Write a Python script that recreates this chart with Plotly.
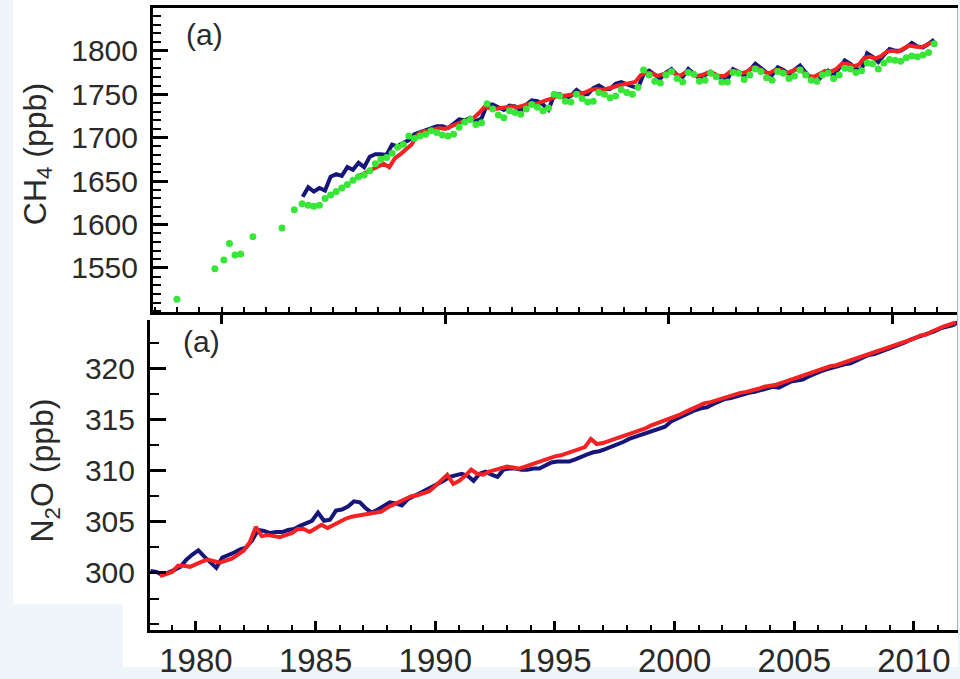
import numpy as np
import plotly.graph_objects as go

W, H = 960, 679

# ---------------- data ----------------
STEP = 0.25  # quarterly samples (years)

# CH4 (ppb) - blue record, quarterly from 1983.625
ch4_blue_start = 1983.625
ch4_blue = [1632, 1643, 1638, 1642, 1639, 1655, 1658, 1656, 1666, 1663,
            1671, 1666, 1678, 1681, 1681, 1680, 1692, 1690, 1694, 1697,
            1704, 1706, 1708, 1710, 1713, 1713, 1711, 1716, 1721, 1720,
            1723, 1719, 1722, 1738, 1738, 1735, 1732, 1737, 1736, 1730,
            1738, 1743, 1742, 1738, 1732, 1749, 1750, 1745, 1748, 1755,
            1750, 1750, 1757, 1760, 1756, 1756, 1762, 1764, 1761, 1759,
            1757, 1773, 1777, 1772, 1768, 1775, 1779, 1772, 1770, 1779,
            1774, 1768, 1772, 1776, 1772, 1768, 1767, 1779, 1776, 1771,
            1778, 1785, 1780, 1775, 1772, 1781, 1778, 1773, 1778, 1783,
            1775, 1768, 1764, 1772, 1777, 1771, 1780, 1789, 1785, 1779,
            1778, 1797, 1793, 1787, 1795, 1802, 1800, 1800, 1804, 1809,
            1805, 1804, 1808, 1813]

# CH4 (ppb) - red record, quarterly from 1986.0
ch4_red_start = 1986.0
ch4_red = [1654, 1657, 1660, 1663, 1667, 1670, 1666, 1676, 1681, 1686,
           1692, 1703, 1707, 1708, 1710, 1711, 1710, 1713, 1716, 1718,
           1720, 1722, 1728, 1735, 1734, 1733, 1734, 1735, 1736, 1735,
           1737, 1739, 1738, 1741, 1743, 1745, 1748, 1748, 1749, 1751,
           1751, 1752, 1755, 1756, 1755, 1756, 1758, 1760, 1761, 1762,
           1764, 1772, 1775, 1774, 1771, 1773, 1776, 1774, 1771, 1775,
           1775, 1771, 1772, 1775, 1774, 1771, 1771, 1776, 1777, 1774,
           1776, 1781, 1780, 1776, 1774, 1778, 1778, 1774, 1776, 1779,
           1776, 1771, 1770, 1774, 1777, 1776, 1779, 1785, 1785, 1782,
           1784, 1792, 1793, 1791, 1794, 1799, 1800, 1799, 1802, 1806,
           1805, 1804, 1806, 1810]

# CH4 (ppb) - green record: sparse early samples, then quarterly from 1983.875
ch4_green_early_years = [1978.0, 1979.7, 1980.1, 1980.35, 1980.6, 1980.85,
                         1981.4, 1982.7, 1983.25, 1983.6]
ch4_green_early = [1514, 1549, 1559, 1578, 1565, 1566, 1586, 1596, 1617, 1624]
ch4_green_start = 1983.875
ch4_green = [1622, 1621, 1622, 1630, 1634, 1638, 1642, 1646, 1651, 1655,
             1657, 1662, 1670, 1675, 1677, 1682, 1689, 1692, 1702, 1699,
             1702, 1704, 1708, 1706, 1703, 1702, 1704, 1712, 1718, 1721,
             1715, 1717, 1739, 1733, 1726, 1723, 1731, 1729, 1727, 1733,
             1738, 1735, 1731, 1734, 1750, 1748, 1742, 1741, 1750, 1745,
             1741, 1742, 1752, 1750, 1746, 1748, 1755, 1752, 1750, 1758,
             1778, 1772, 1765, 1763, 1772, 1776, 1768, 1764, 1775, 1773,
             1765, 1766, 1774, 1770, 1764, 1764, 1775, 1774, 1767, 1772,
             1779, 1776, 1769, 1766, 1776, 1774, 1768, 1771, 1778, 1772,
             1766, 1765, 1772, 1774, 1768, 1772, 1780, 1779, 1775, 1777,
             1786, 1785, 1779, 1786, 1790, 1789, 1788, 1792, 1794, 1793,
             1795, 1798, 1808]

# N2O (ppb) - blue record, quarterly from 1978.1
n2o_blue_start = 1978.1
n2o_blue = [300.2, 300.1, 299.8, 300.0, 300.3, 300.6, 301.3, 301.8, 302.2, 301.6,
            301.0, 300.5, 301.5, 301.7, 302.0, 302.3, 302.5, 303.2, 304.2, 304.1,
            303.9, 304.0, 304.0, 304.2, 304.3, 304.6, 304.9, 305.1, 305.9, 305.1,
            305.2, 306.1, 306.2, 306.5, 307.0, 306.9, 306.3, 305.9, 306.2, 306.5,
            306.9, 306.8, 306.6, 307.2, 307.5, 307.7, 308.0, 308.4, 308.7, 309.0,
            309.4, 309.6, 309.7, 309.5, 309.0, 309.7, 309.9, 309.6, 309.4, 310.1,
            310.2, 310.2, 310.1, 310.1, 310.2, 310.2, 310.5, 310.8, 310.9, 310.9,
            310.9, 311.1, 311.4, 311.6, 311.8, 311.9, 312.1, 312.3, 312.5, 312.8,
            313.1, 313.3, 313.4, 313.6, 313.9, 314.1, 314.3, 314.8, 315.1, 315.4,
            315.6, 315.9, 316.1, 316.2, 316.5, 316.8, 317.0, 317.1, 317.3, 317.5,
            317.6, 317.7, 317.9, 318.1, 318.2, 318.1, 318.4, 318.7, 318.8, 318.9,
            319.2, 319.5, 319.7, 319.9, 320.1, 320.3, 320.4, 320.5, 320.8, 321.1,
            321.3, 321.4, 321.6, 321.9, 322.1, 322.3, 322.5, 322.8, 323.0, 323.2,
            323.3, 323.6, 323.9, 324.0, 324.2, 324.5]

# N2O (ppb) - red record, quarterly from 1978.5
n2o_red_start = 1978.5
n2o_red = [299.7, 299.9, 300.1, 300.7, 300.7, 300.6, 300.9, 301.1, 301.3, 301.1,
           301.0, 301.2, 301.4, 301.8, 302.2, 303.0, 304.5, 303.6, 303.7, 303.6,
           303.5, 303.7, 303.9, 304.3, 304.3, 304.0, 304.4, 304.7, 304.4, 304.7,
           305.1, 305.3, 305.5, 305.6, 305.7, 305.8, 305.9, 306.0, 306.4, 306.7,
           306.9, 307.2, 307.5, 307.6, 307.8, 308.0, 308.5, 309.1, 309.6, 308.7,
           309.0, 309.5, 310.1, 309.7, 309.6, 309.9, 310.1, 310.3, 310.4, 310.3,
           310.2, 310.4, 310.6, 310.8, 311.1, 311.3, 311.4, 311.5, 311.7, 312.0,
           312.2, 312.3, 313.1, 312.6, 312.7, 312.9, 313.1, 313.3, 313.4, 313.7,
           313.9, 314.1, 314.4, 314.6, 314.8, 315.0, 315.3, 315.5, 315.8, 316.1,
           316.4, 316.6, 316.7, 316.9, 317.1, 317.3, 317.4, 317.6, 317.7, 317.8,
           318.0, 318.2, 318.3, 318.4, 318.6, 318.8, 319.0, 319.2, 319.4, 319.6,
           319.8, 320.0, 320.2, 320.3, 320.5, 320.7, 320.9, 321.1, 321.3, 321.5,
           321.7, 321.9, 322.1, 322.3, 322.5, 322.7, 322.9, 323.2, 323.3, 323.6,
           323.9, 324.1, 324.3, 324.5]

ch4_ticks = [1550, 1600, 1650, 1700, 1750, 1800]
n2o_ticks = [300, 305, 310, 315, 320]
year_ticks = [1980, 1985, 1990, 1995, 2000, 2005, 2010]


def times(start, vals):
    return start + STEP * np.arange(len(vals))


# ---------------- styling ----------------
BLUE = "#15157a"
RED = "#f42222"
GREEN = "#38e638"
TXT = "#2a2a2a"
FONT = "Liberation Sans, Arial, sans-serif"
BG = "#eef6fa"


def fx(p):
    return p / W


def fy(p):
    return 1 - p / H


fig = go.Figure()

fig.add_trace(go.Scatter(x=times(ch4_blue_start, ch4_blue), y=ch4_blue, mode="lines",
                         line=dict(color=BLUE, width=4), xaxis="x", yaxis="y"))
fig.add_trace(go.Scatter(x=times(ch4_red_start, ch4_red), y=ch4_red, mode="lines",
                         line=dict(color=RED, width=4), xaxis="x", yaxis="y"))
fig.add_trace(go.Scatter(x=list(ch4_green_early_years) + list(times(ch4_green_start, ch4_green)),
                         y=ch4_green_early + ch4_green, mode="markers",
                         marker=dict(color=GREEN, size=7), xaxis="x", yaxis="y"))

fig.add_trace(go.Scatter(x=times(n2o_blue_start, n2o_blue), y=n2o_blue, mode="lines",
                         line=dict(color=BLUE, width=4), xaxis="x2", yaxis="y2"))
fig.add_trace(go.Scatter(x=times(n2o_red_start, n2o_red), y=n2o_red, mode="lines",
                         line=dict(color=RED, width=4), xaxis="x2", yaxis="y2"))

axis_common = dict(showgrid=False, zeroline=False, showline=True, linecolor="black",
                   linewidth=3, tickcolor="black", fixedrange=True,
                   tickfont=dict(family=FONT, size=30, color=TXT))

fig.update_layout(
    width=W, height=H, autosize=False,
    margin=dict(l=0, r=0, t=0, b=0),
    paper_bgcolor=BG, plot_bgcolor="white",
    showlegend=False,
    xaxis=dict(axis_common, domain=[fx(153), fx(958)], range=[1976.93, 2012.94],
               anchor="y", showticklabels=False, mirror=True,
               tickmode="array", tickvals=[1980, 1990, 2000, 2010],
               ticks="outside", ticklen=9, tickwidth=3,
               minor=dict(dtick=1, tick0=1980, ticks="inside", ticklen=5,
                          tickwidth=2, tickcolor="black")),
    yaxis=dict(axis_common, domain=[fy(318), fy(8)], range=[1498.8, 1849.4],
               anchor="x", tickmode="array", tickvals=ch4_ticks,
               ticks="inside", ticklen=15, tickwidth=3, ticklabelstandoff=6,
               minor=dict(dtick=10, tick0=1500, ticks="inside", ticklen=8,
                          tickwidth=2, tickcolor="black")),
    xaxis2=dict(axis_common, domain=[fx(150), fx(958)], range=[1978.08, 2011.84],
                anchor="y2", tickmode="array", tickvals=year_ticks,
                ticks="inside", ticklen=9, tickwidth=2.5,
                tickfont=dict(family=FONT, size=33, color=TXT),
                minor=dict(dtick=1, tick0=1980, ticks="inside", ticklen=5,
                           tickwidth=2, tickcolor="black")),
    yaxis2=dict(axis_common, domain=[fy(641), fy(326)], range=[294.46, 324.7],
                anchor="x2", tickmode="array", tickvals=n2o_ticks,
                ticks="inside", ticklen=16, tickwidth=3, ticklabelstandoff=6,
                minor=dict(dtick=2.5, tick0=300, ticks="inside", ticklen=9,
                           tickwidth=2, tickcolor="black")),
)

# white picture area over the light page background
fig.add_shape(type="rect", xref="paper", yref="paper", layer="below",
              x0=fx(13), x1=fx(958), y0=fy(615), y1=fy(0),
              fillcolor="white", line=dict(width=0))
fig.add_shape(type="rect", xref="paper", yref="paper", layer="below",
              x0=fx(123), x1=fx(958), y0=fy(679), y1=fy(614),
              fillcolor="white", line=dict(width=0))
# thin right edge of the panels
fig.add_shape(type="line", xref="paper", yref="paper",
              x0=fx(957.5), x1=fx(957.5), y0=fy(641), y1=fy(8),
              line=dict(color="#b8b8b8", width=1))

annos = [
    dict(text="CH<sub>4</sub> (ppb)", x=fx(37), y=fy(157), textangle=-90, size=32),
    dict(text="N<sub>2</sub>O (ppb)", x=fx(45), y=fy(479), textangle=-90, size=32),
    dict(text="(a)", x=fx(204), y=fy(35), textangle=0, size=30),
    dict(text="(a)", x=fx(201), y=fy(348), textangle=0, size=30),
]
for a in annos:
    fig.add_annotation(text=a["text"], x=a["x"], y=a["y"], xref="paper", yref="paper",
                       showarrow=False, textangle=a["textangle"],
                       xanchor="center", yanchor="middle",
                       font=dict(family=FONT, size=a["size"], color=TXT))

# remove the default page margin so the 960x679 figure fills the window exactly
page_js = ("document.body.style.margin='0';"
           "document.body.style.overflow='hidden';"
           "document.body.style.background='" + BG + "';")
fig.write_html("out.html", post_script=page_js, config={"displayModeBar": False})
